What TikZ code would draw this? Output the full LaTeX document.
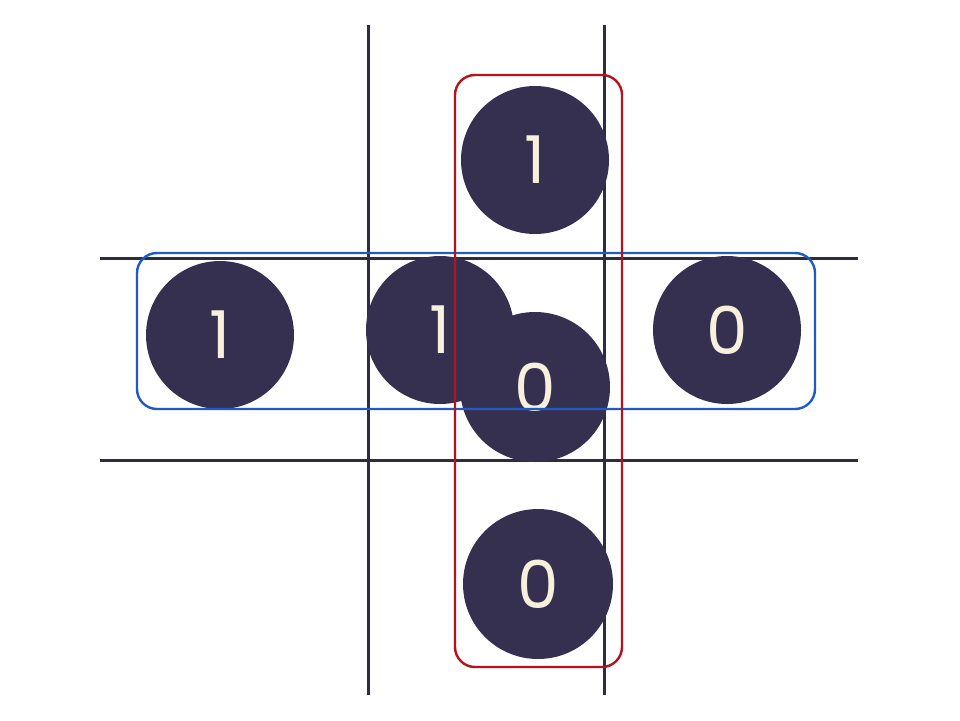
\documentclass[tikz,border=0pt]{standalone}
\usepackage{fontspec}
\setmainfont{Poppins}
\begin{document}
\begin{tikzpicture}[x=1pt,y=-1pt,
  gridline/.style={draw=gridcol,line width=3pt},
  disc/.style={circle,fill=disccol,text=digitcol,minimum size=148pt,inner sep=0pt,font=\fontsize{66}{66}\selectfont},
  redbox/.style={draw=boxred,line width=2.4pt,rounded corners=20pt},
  bluebox/.style={draw=boxblue,line width=2.4pt,rounded corners=20pt}]
\definecolor{gridcol}{HTML}{2E2B45}
\definecolor{disccol}{HTML}{35304F}
\definecolor{digitcol}{HTML}{F6F0DC}
\definecolor{boxred}{HTML}{B5121B}
\definecolor{boxblue}{HTML}{1E5BC6}
\useasboundingbox (0,0) rectangle (960,720);
% grid
\coordinate (v1t) at (368,25); \coordinate (v1b) at (368,695);
\coordinate (v2t) at (604,25); \coordinate (v2b) at (604,695);
\coordinate (h1l) at (100,258); \coordinate (h1r) at (858,258);
\coordinate (h2l) at (100,460); \coordinate (h2r) at (858,460);
\draw[gridline] (v1t) -- (v1b);
\draw[gridline] (v2t) -- (v2b);
\draw[gridline] (h1l) -- (h1r);
\draw[gridline] (h2l) -- (h2r);
% discs
\node[disc] (top) at (535,160) {1};
\node[disc] (left) at (220,335) {1};
\node[disc] (midone) at (440,330) {1};
\node[disc,minimum size=150pt] (midzero) at (535,387) {0};
\node[disc] (right) at (727,330) {0};
\node[disc,minimum size=150pt] (bottom) at (538,584) {0};
% boxes
\draw[bluebox] (137,253) rectangle (815,409);
\draw[redbox] (455,75) rectangle (622,667);
\end{tikzpicture}
\end{document}
